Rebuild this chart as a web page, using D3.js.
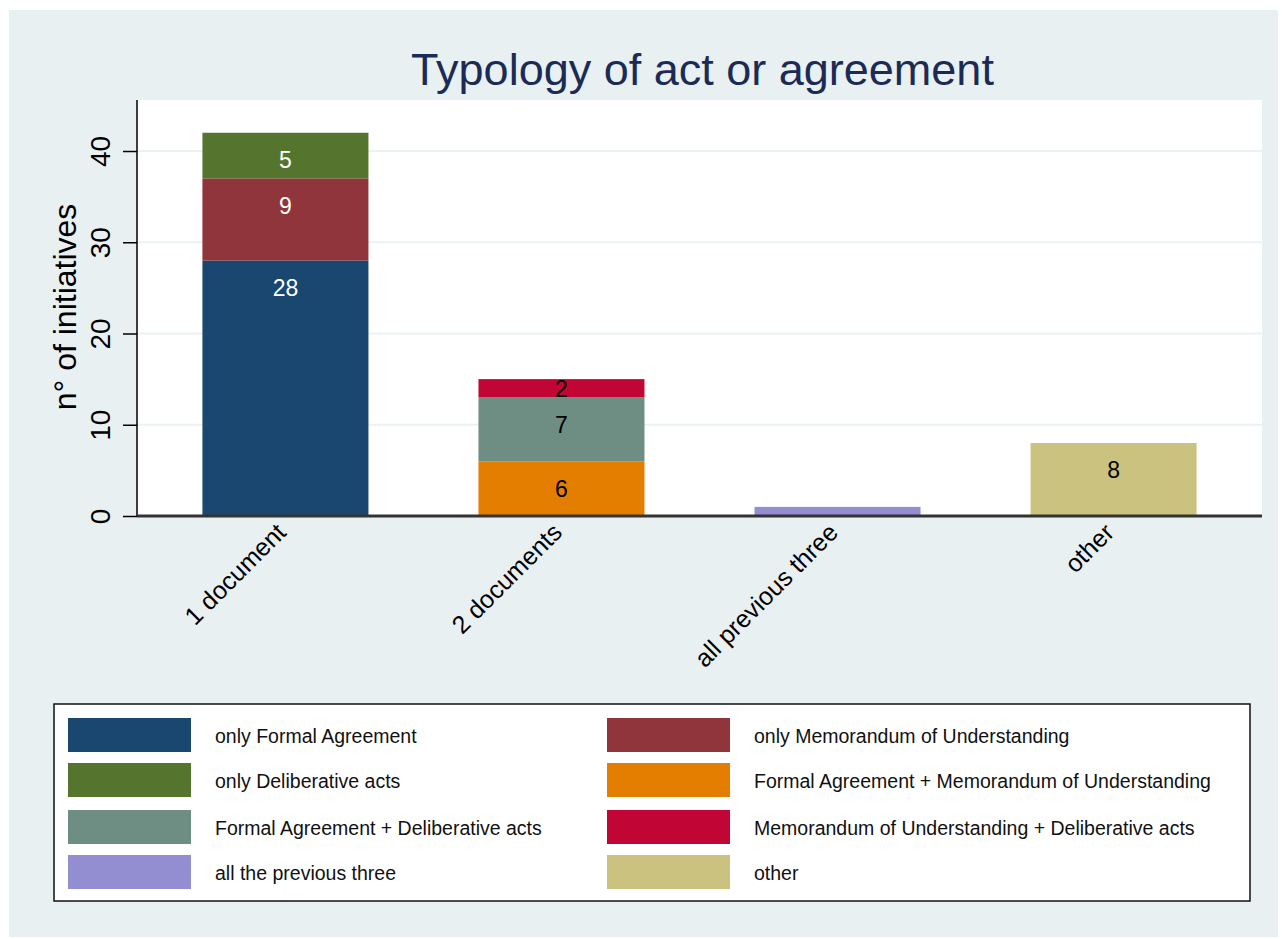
<!DOCTYPE html>
<html>
<head>
<meta charset="utf-8">
<script src="https://cdn.jsdelivr.net/npm/d3@7/dist/d3.min.js"></script>
<style>
  body { margin: 0; background: #ffffff; }
  text { font-family: "Liberation Sans", Arial, sans-serif; }
</style>
</head>
<body>
<div id="chart"></div>
<script>
// categories on the x axis
let categories = ['1 document', '2 documents', 'all previous three', 'other'];

// series (stack order, bottom to top)
let seriesNames = [
    'only Formal Agreement',
    'only Memorandum of Understanding',
    'only Deliberative acts',
    'Formal Agreement + Memorandum of Understanding',
    'Formal Agreement + Deliberative acts',
    'Memorandum of Understanding + Deliberative acts',
    'all the previous three',
    'other'
];

let onlyFormal      = [28, 0, 0, 0];
let onlyMemorandum  = [9, 0, 0, 0];
let onlyDeliberative = [5, 0, 0, 0];
let formalMemo      = [0, 6, 0, 0];
let formalDelib     = [0, 7, 0, 0];
let memoDelib       = [0, 2, 0, 0];
let allThree        = [0, 0, 1, 0];
let otherValues     = [0, 0, 0, 8];

let seriesValues = [onlyFormal, onlyMemorandum, onlyDeliberative, formalMemo,
                    formalDelib, memoDelib, allThree, otherValues];

let seriesColors = ['#1a476f', '#90353b', '#55752f', '#e37e00',
                    '#6e8e84', '#c10534', '#938dd2', '#cac27e'];

// label text colour per category
let labelColors = ['#ffffff', '#000000', '#000000', '#000000'];

let yTicks = [0, 10, 20, 30, 40];

let dim = {
    'width': 1282,
    'height': 939
};

let plot = { left: 137, right: 1262, top: 100, bottom: 516 };

let svg = d3.select('#chart').append('svg')
    .attr('width', dim.width)
    .attr('height', dim.height);

// outer background
svg.append('rect')
    .attr('x', 9).attr('y', 10)
    .attr('width', 1269).attr('height', 927)
    .attr('fill', '#e9f0f2');

// plot region
svg.append('rect')
    .attr('x', plot.left).attr('y', plot.top)
    .attr('width', plot.right - plot.left).attr('height', plot.bottom - plot.top)
    .attr('fill', '#ffffff');

let table = categories.map((c, i) => {
    let row = { category: c };
    seriesNames.forEach((s, j) => { row[s] = seriesValues[j][i]; });
    return row;
});

let stacked = d3.stack().keys(seriesNames)(table);

let scaleX = d3.scaleBand()
    .domain(categories)
    .range([plot.left, plot.right])
    .paddingInner(0.3986)
    .paddingOuter(0.237);

let scaleY = d3.scaleLinear()
    .domain([0, 45.59])
    .range([plot.bottom, plot.top]);

// grid lines
svg.append('g')
    .selectAll('line')
    .data(yTicks.filter(d => d > 0))
    .join('line')
    .attr('x1', plot.left).attr('x2', plot.right)
    .attr('y1', d => scaleY(d)).attr('y2', d => scaleY(d))
    .attr('stroke', '#eaf2f3')
    .attr('stroke-width', 2);

// bars
let groups = svg.append('g')
    .selectAll('g')
    .data(stacked)
    .join('g')
    .attr('fill', (d, i) => seriesColors[i]);

groups.selectAll('rect')
    .data(d => d)
    .join('rect')
    .attr('x', d => scaleX(d.data.category))
    .attr('y', d => scaleY(d[1]))
    .attr('width', scaleX.bandwidth())
    .attr('height', d => scaleY(d[0]) - scaleY(d[1]));

// bar labels
let labelData = [];
stacked.forEach(layer => {
    layer.forEach((d, i) => {
        let v = d[1] - d[0];
        if (v <= 0) return;
        let top = scaleY(d[1]);
        let bottom = scaleY(d[0]);
        let h = bottom - top;
        if (h < 12) return;
        let y = (h > 35) ? top + 27 : (top + bottom) / 2;
        labelData.push({ v: v, x: scaleX(d.data.category) + scaleX.bandwidth() / 2, y: y, color: labelColors[i] });
    });
});

svg.append('g')
    .selectAll('text')
    .data(labelData)
    .join('text')
    .attr('x', d => d.x)
    .attr('y', d => d.y)
    .attr('dy', '0.36em')
    .attr('text-anchor', 'middle')
    .attr('font-size', 23)
    .attr('fill', d => d.color)
    .text(d => d.v);

// y axis
let axisY = d3.axisLeft(scaleY)
    .tickValues(yTicks)
    .tickSize(14)
    .tickPadding(0)
    .tickFormat(d3.format('d'));

let gy = svg.append('g')
    .attr('transform', `translate(${plot.left}, 0)`)
    .call(axisY);

gy.select('.domain')
    .attr('d', `M0,${plot.top}V${plot.bottom}`)
    .attr('stroke', '#000')
    .attr('stroke-width', 1.5);
gy.selectAll('.tick line').attr('stroke', '#000').attr('stroke-width', 1.5);
gy.selectAll('.tick text')
    .attr('font-size', 28)
    .attr('fill', '#000')
    .attr('text-anchor', 'middle')
    .attr('x', 0)
    .attr('dy', 0)
    .attr('transform', 'translate(-27, 0) rotate(-90)');

// x axis
let axisX = d3.axisBottom(scaleX).tickSize(0).tickPadding(0);
let gx = svg.append('g')
    .attr('transform', `translate(0, ${plot.bottom})`)
    .call(axisX);

gx.select('.domain')
    .attr('d', `M${plot.left},0H${plot.right}`)
    .attr('stroke', '#333')
    .attr('stroke-width', 3);
gx.selectAll('.tick text')
    .attr('font-size', 25)
    .attr('fill', '#000')
    .attr('text-anchor', 'end')
    .attr('y', 0)
    .attr('dy', 0)
    .attr('transform', 'translate(2, 18) rotate(-45)');

// y axis title
svg.append('text')
    .attr('transform', `translate(76, ${(plot.top + plot.bottom) / 2 - 1}) rotate(-90)`)
    .attr('text-anchor', 'middle')
    .attr('font-size', 32)
    .attr('fill', '#000')
    .text('n° of initiatives');

// title
svg.append('text')
    .attr('x', (plot.left + plot.right) / 2 + 3)
    .attr('y', 85)
    .attr('text-anchor', 'middle')
    .attr('font-size', 45)
    .attr('fill', '#1c2b55')
    .text('Typology of act or agreement');

// legend
let legend = svg.append('g');
legend.append('rect')
    .attr('x', 54).attr('y', 704)
    .attr('width', 1196).attr('height', 197)
    .attr('fill', '#ffffff')
    .attr('stroke', '#111')
    .attr('stroke-width', 1.5);

let legendCols = [68, 607];
let legendRows = [735, 780, 827, 872];

let items = legend.selectAll('g.item')
    .data(seriesNames)
    .join('g')
    .attr('class', 'item')
    .attr('transform', (d, i) => `translate(${legendCols[i % 2]}, ${legendRows[Math.floor(i / 2)]})`);

items.append('rect')
    .attr('x', 0).attr('y', -17)
    .attr('width', 123).attr('height', 34)
    .attr('fill', (d, i) => seriesColors[i]);

items.append('text')
    .attr('x', 147)
    .attr('y', 1)
    .attr('dy', '0.36em')
    .attr('font-size', 19.5)
    .attr('fill', '#111')
    .text(d => d);
</script>
</body>
</html>
